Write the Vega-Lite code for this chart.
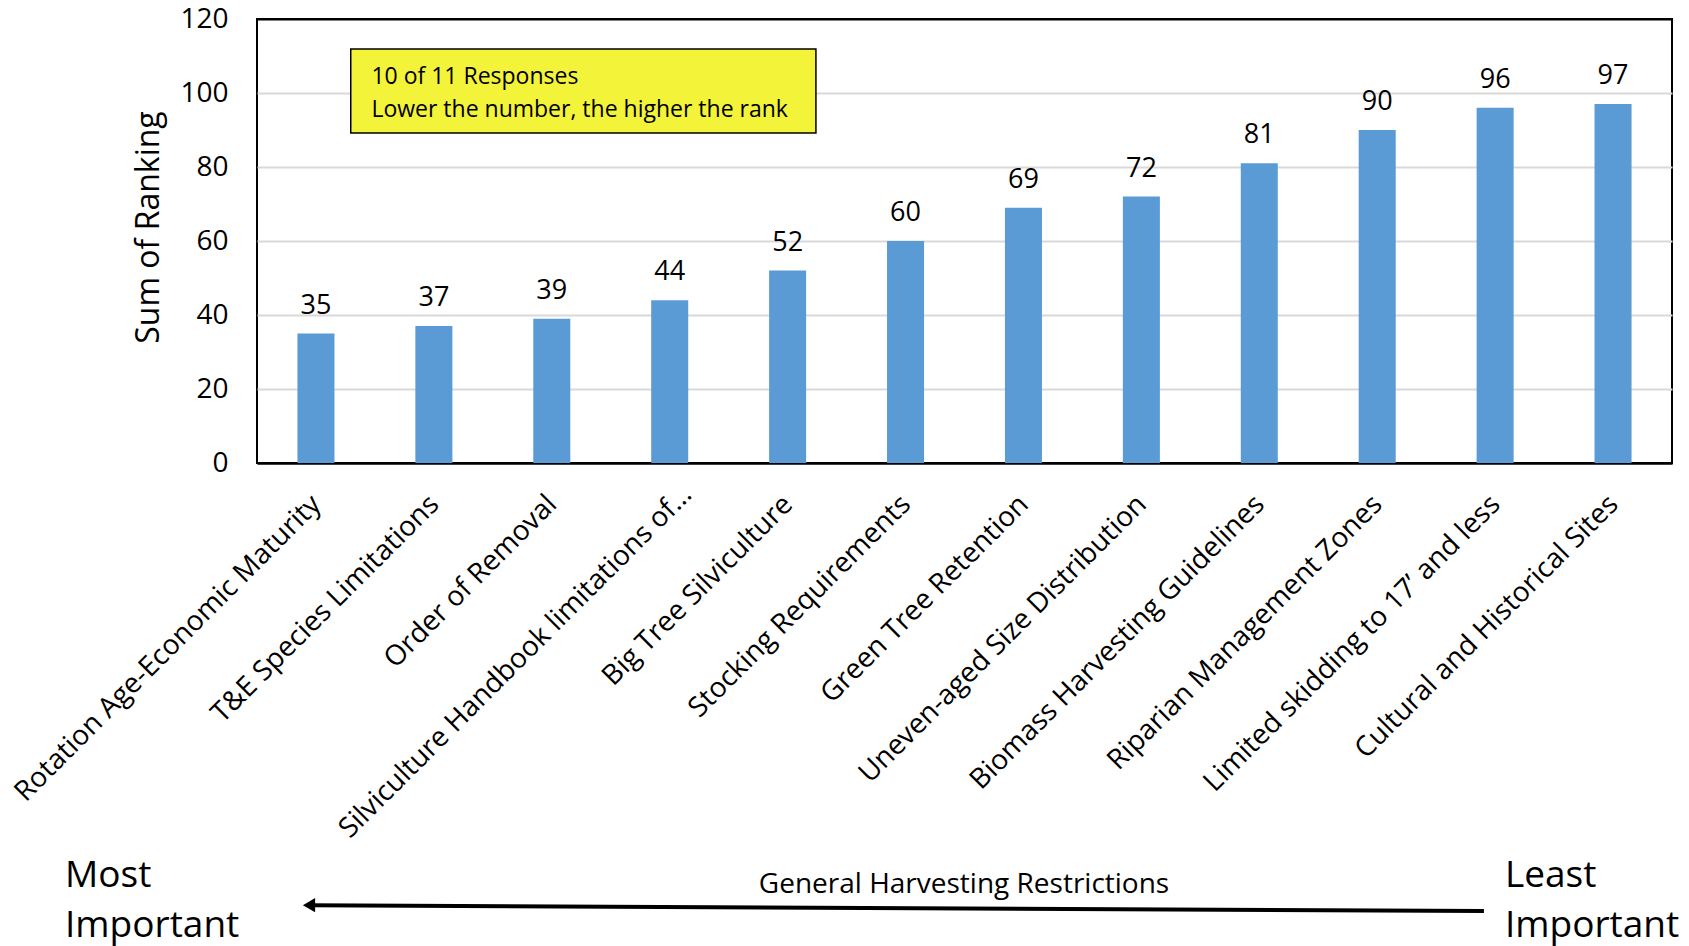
{
  "$schema": "https://vega.github.io/schema/vega-lite/v6.json",
  "width": 1415,
  "height": 444,
  "autosize": {"type": "none"},
  "padding": {"left": 257, "top": 19, "right": 17, "bottom": 483},
  "background": "white",
  "config": {
    "view": {"stroke": "#000", "strokeWidth": 2},
    "font": "Open Sans"
  },
  "data": {
    "values": [
      {"restriction": "Rotation Age-Economic Maturity", "sum": 35},
      {"restriction": "T&E Species Limitations", "sum": 37},
      {"restriction": "Order of Removal", "sum": 39},
      {"restriction": "Silviculture Handbook limitations of…", "sum": 44},
      {"restriction": "Big Tree Silviculture", "sum": 52},
      {"restriction": "Stocking Requirements", "sum": 60},
      {"restriction": "Green Tree Retention", "sum": 69},
      {"restriction": "Uneven-aged Size Distribution", "sum": 72},
      {"restriction": "Biomass Harvesting Guidelines", "sum": 81},
      {"restriction": "Riparian Management Zones", "sum": 90},
      {"restriction": "Limited skidding to 17’ and less", "sum": 96},
      {"restriction": "Cultural and Historical Sites", "sum": 97}
    ]
  },
  "layer": [
    {
      "mark": {"type": "bar", "color": "#5b9bd5"},
      "encoding": {
        "x": {
          "field": "restriction", "type": "nominal", "sort": null,
          "scale": {"paddingInner": 0.686, "paddingOuter": 0.343},
          "axis": {
            "title": null, "labelAngle": -45, "labelFontSize": 28, "labelFont": "Open Sans",
            "labelColor": "#000", "labelLimit": 800,
            "labelPadding": {"condition": {"test": "datum.value == 'Silviculture Handbook limitations of…'", "value": 17}, "value": 27},
            "labelOffset": {"condition": {"test": "datum.value == 'Silviculture Handbook limitations of…'", "value": 8}, "value": -9},
            "labelOverlap": false,
            "ticks": false, "domain": true, "domainColor": "#000", "domainWidth": 2, "grid": false
          }
        },
        "y": {
          "field": "sum", "type": "quantitative",
          "scale": {"domain": [0, 120], "nice": false},
          "axis": {
            "title": "Sum of Ranking", "titleFontSize": 32, "titleFont": "Open Sans",
            "titleFontWeight": "normal", "titleColor": "#000", "titlePadding": 14, "titleY": 208,
            "values": [0, 20, 40, 60, 80, 100, 120],
            "labelFontSize": 28, "labelFont": "Open Sans", "labelColor": "#000", "labelPadding": 29,
            "ticks": false, "domain": false, "grid": true,
            "gridColor": {"condition": {"test": "datum.value == 0 || datum.value == 120", "value": "#000"}, "value": "#d9d9d9"},
            "gridWidth": 2
          }
        }
      }
    },
    {
      "mark": {"type": "text", "fontSize": 27, "font": "Open Sans", "color": "#000", "dy": -20, "baseline": "alphabetic"},
      "encoding": {
        "x": {"field": "restriction", "type": "nominal", "sort": null, "scale": {"paddingInner": 0.686, "paddingOuter": 0.343}, "axis": null},
        "y": {"field": "sum", "type": "quantitative", "scale": {"domain": [0, 120], "nice": false}, "axis": null},
        "text": {"field": "sum", "type": "quantitative"}
      }
    },
    {
      "data": {"values": [{}]},
      "mark": {"type": "rect", "fill": "#f3f33a", "stroke": "#000", "strokeWidth": 1.5},
      "encoding": {
        "x": {"datum": 0.795, "type": "quantitative", "scale": {"domain": [0, 12], "nice": false, "zero": false}, "axis": null},
        "x2": {"datum": 4.74},
        "y": {"datum": 111.9, "type": "quantitative", "scale": {"domain": [0, 120], "nice": false}, "axis": null},
        "y2": {"datum": 89.2}
      }
    },
    {
      "data": {"values": [{}]},
      "mark": {"type": "text", "fontSize": 23, "font": "Open Sans", "color": "#000", "align": "left", "baseline": "middle"},
      "encoding": {
        "x": {"datum": 0.97, "type": "quantitative", "scale": {"domain": [0, 12], "nice": false, "zero": false}, "axis": null},
        "y": {"datum": 104.3, "type": "quantitative", "scale": {"domain": [0, 120], "nice": false}, "axis": null},
        "text": {"value": "10 of 11 Responses"}
      }
    },
    {
      "data": {"values": [{}]},
      "mark": {"type": "text", "fontSize": 23, "font": "Open Sans", "color": "#000", "align": "left", "baseline": "middle"},
      "encoding": {
        "x": {"datum": 0.97, "type": "quantitative", "scale": {"domain": [0, 12], "nice": false, "zero": false}, "axis": null},
        "y": {"datum": 95.4, "type": "quantitative", "scale": {"domain": [0, 120], "nice": false}, "axis": null},
        "text": {"value": "Lower the number, the higher the rank"}
      }
    },
    {
      "data": {"values": [{}]},
      "mark": {"type": "text", "fontSize": 37, "font": "Open Sans", "color": "#000", "align": "left", "baseline": "middle", "lineHeight": 50},
      "encoding": {
        "x": {"datum": -1.628, "type": "quantitative", "scale": {"domain": [0, 12], "nice": false, "zero": false}, "axis": null},
        "y": {"datum": -111.6, "type": "quantitative", "scale": {"domain": [0, 120], "nice": false}, "axis": null},
        "text": {"value": ["Most", "Important"]}
      }
    },
    {
      "data": {"values": [{}]},
      "mark": {"type": "text", "fontSize": 37, "font": "Open Sans", "color": "#000", "align": "left", "baseline": "middle", "lineHeight": 50},
      "encoding": {
        "x": {"datum": 10.583, "type": "quantitative", "scale": {"domain": [0, 12], "nice": false, "zero": false}, "axis": null},
        "y": {"datum": -111.6, "type": "quantitative", "scale": {"domain": [0, 120], "nice": false}, "axis": null},
        "text": {"value": ["Least", "Important"]}
      }
    },
    {
      "data": {"values": [{}]},
      "mark": {"type": "text", "fontSize": 28, "font": "Open Sans", "color": "#000", "align": "center", "baseline": "middle"},
      "encoding": {
        "x": {"datum": 5.996, "type": "quantitative", "scale": {"domain": [0, 12], "nice": false, "zero": false}, "axis": null},
        "y": {"datum": -114, "type": "quantitative", "scale": {"domain": [0, 120], "nice": false}, "axis": null},
        "text": {"value": "General Harvesting Restrictions"}
      }
    },
    {
      "data": {"values": [{}]},
      "mark": {"type": "rule", "color": "#000", "strokeWidth": 4},
      "encoding": {
        "x": {"datum": 0.441, "type": "quantitative", "scale": {"domain": [0, 12], "nice": false, "zero": false}, "axis": null},
        "x2": {"datum": 10.405},
        "y": {"datum": -119.5, "type": "quantitative", "scale": {"domain": [0, 120], "nice": false}, "axis": null},
        "y2": {"datum": -121.1}
      }
    },
    {
      "data": {"values": [{}]},
      "mark": {"type": "point", "shape": "triangle-left", "filled": true, "color": "#000", "opacity": 1, "size": 200},
      "encoding": {
        "x": {"datum": 0.441, "type": "quantitative", "scale": {"domain": [0, 12], "nice": false, "zero": false}, "axis": null},
        "y": {"datum": -119.5, "type": "quantitative", "scale": {"domain": [0, 120], "nice": false}, "axis": null}
      }
    }
  ],
  "resolve": {
    "scale": {"x": "independent", "y": "independent"},
    "axis": {"x": "independent", "y": "independent"}
  }
}
